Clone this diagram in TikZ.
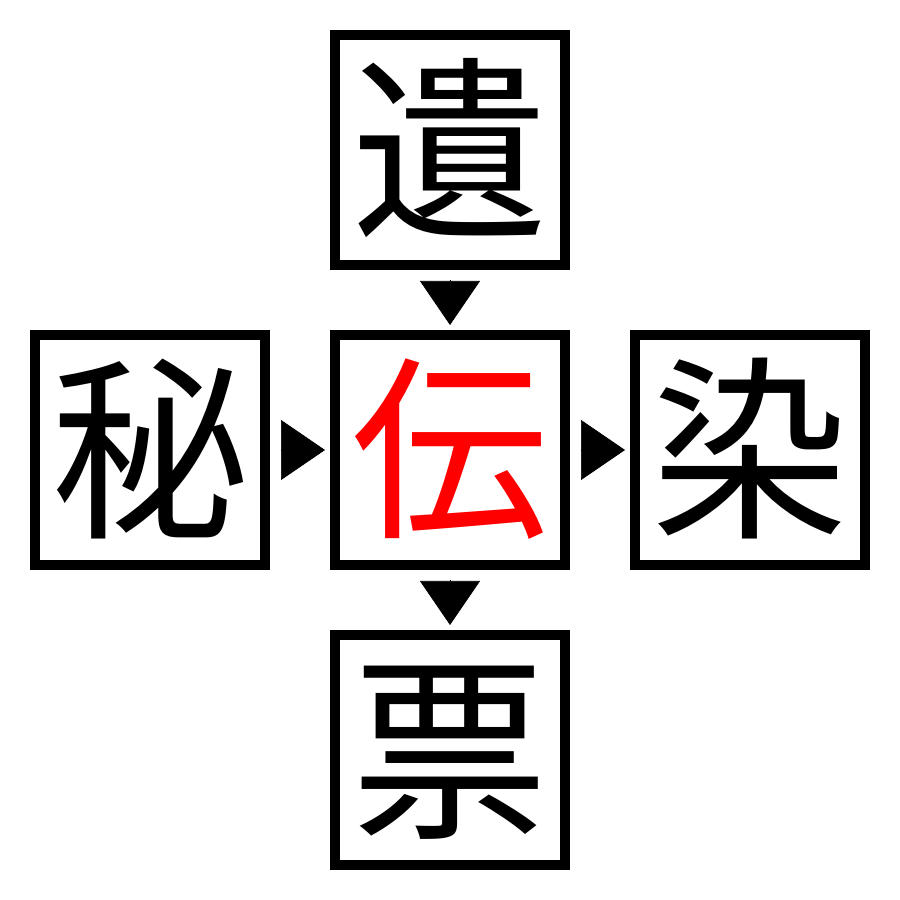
\documentclass[tikz,border=0pt]{standalone}
\usepackage{fontspec}
\newfontfamily\cjk{Noto Sans CJK JP}
\usetikzlibrary{arrows.meta}

\tikzstyle{kanji}=[shape=rectangle,draw=black,line width=1mm,minimum size=2.3cm,inner sep=0pt,font=\cjk\fontsize{56}{56}\selectfont,text height=49pt,text depth=7pt]
\tikzstyle{mainkanji}=[kanji,text=red]
\tikzstyle{tri}=[line width=0.2pt,-{Triangle[length=4.4mm,width=6mm]},shorten <=1.05mm,shorten >=0.5mm]

\begin{document}
\begin{tikzpicture}[]
\useasboundingbox (0,0) rectangle (9,9);
% top row
\node[kanji] (top) at (4.5,7.5) {遺};
% middle row
\node[kanji] (left) at (1.5,4.5) {秘};
\node[mainkanji] (mid) at (4.5,4.5) {伝};
\node[kanji] (right) at (7.5,4.5) {染};
% bottom row
\node[kanji] (bottom) at (4.5,1.5) {票};
% arrows
\draw[tri] (top) -- (mid);
\draw[tri] (left) -- (mid);
\draw[tri] (mid) -- (right);
\draw[tri] (mid) -- (bottom);
\end{tikzpicture}
\end{document}
